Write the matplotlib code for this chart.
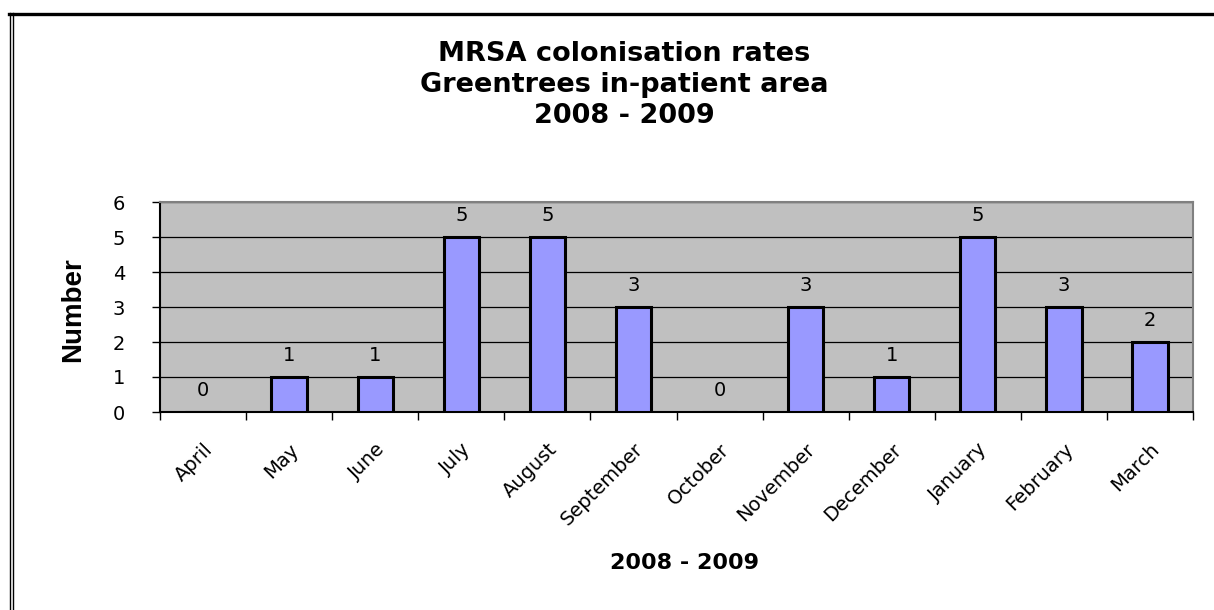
import matplotlib
matplotlib.use("Agg")
import matplotlib.pyplot as plt
from matplotlib.lines import Line2D

months = ["April", "May", "June", "July", "August", "September", "October",
          "November", "December", "January", "February", "March"]
counts = [0, 1, 1, 5, 5, 3, 0, 3, 1, 5, 3, 2]
yticks = [0, 1, 2, 3, 4, 5, 6]

plt.rcParams['font.family'] = ['DejaVu Sans']

W, H = 1214, 610
fig = plt.figure(figsize=(W / 100, H / 100), dpi=100)
fig.patch.set_facecolor("white")

# outer chart border (double line left, thick top)
fig.add_artist(Line2D([9.5 / W, 9.5 / W], [0, 1 - 13 / H], transform=fig.transFigure, color="black", lw=1.0))
fig.add_artist(Line2D([13 / W, 13 / W], [0, 1 - 13 / H], transform=fig.transFigure, color="black", lw=1.0))
fig.add_artist(Line2D([9 / W, 1], [1 - 14 / H, 1 - 14 / H], transform=fig.transFigure, color="black", lw=2.4))

ax = fig.add_axes([160 / W, 1 - 412 / H, (1193 - 160) / W, (412 - 202) / H])
ax.set_facecolor("#C0C0C0")

x = list(range(len(months)))
bars = ax.bar(x, counts, width=0.41, color="#9999FF", edgecolor="black", linewidth=2.2, zorder=3)
for xi, v in zip(x, counts):
    ax.annotate(str(v), (xi, v), xytext=(0, 8.5), textcoords="offset points",
                ha="center", va="bottom", fontsize=14)

ax.set_xlim(-0.5, len(months) - 0.5)
ax.set_ylim(0, 6)
ax.set_yticks(yticks)
ax.set_yticklabels([str(t) for t in yticks], fontsize=14)
ax.yaxis.grid(True, color="black", linewidth=0.9, zorder=1)
ax.set_axisbelow(True)

ax.set_xticks([i + 0.5 for i in range(-1, len(months))], minor=False)
ax.set_xticklabels([])
ax.set_xticks(x, minor=True)
ax.set_xticklabels(months, minor=True, rotation=45, ha="right", rotation_mode="anchor", fontsize=14)
ax.tick_params(axis="x", which="major", direction="out", length=6, width=1)
ax.tick_params(axis="x", which="minor", length=0, pad=20)
ax.tick_params(axis="y", direction="out", length=6, width=1, pad=19)

for s in ["top", "right"]:
    ax.spines[s].set_color("#808080")
    ax.spines[s].set_linewidth(1.5)
for s in ["left", "bottom"]:
    ax.spines[s].set_color("black")
    ax.spines[s].set_linewidth(1.5)

fig.text(624 / W, 1 - 85 / H,
         "MRSA colonisation rates\nGreentrees in-patient area\n2008 - 2009",
         ha="center", va="center", fontsize=19.5, fontweight="bold", linespacing=1.25)
fig.text(684 / W, 1 - 563 / H, "2008 - 2009", ha="center", va="center",
         fontsize=16, fontweight="bold")
fig.text(73 / W, 1 - 310 / H, "Number", ha="center", va="center", rotation=90,
         fontsize=20, fontweight="bold", family=["Liberation Sans Narrow", "Liberation Sans"])

fig.savefig("out.png", dpi=100)
